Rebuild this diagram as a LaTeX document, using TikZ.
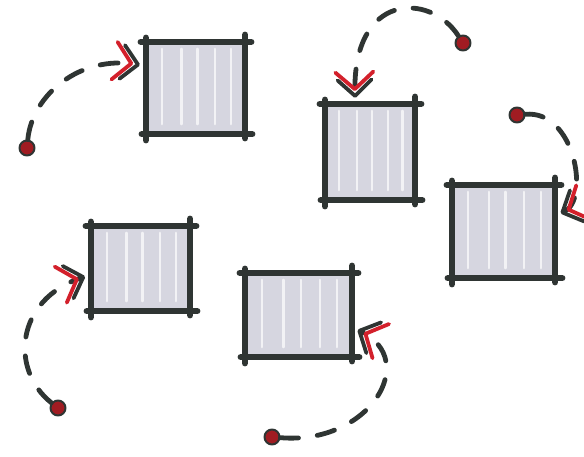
\documentclass[tikz,border=0pt]{standalone}
\usetikzlibrary{calc,arrows.meta}
\definecolor{ink}{HTML}{2F3533}
\definecolor{inkred}{HTML}{D3202B}
\definecolor{dotred}{HTML}{A01C22}
\definecolor{boxgray}{HTML}{D6D6E0}

\begin{document}
\begin{tikzpicture}[x=1pt,y=-1pt,line cap=round,line join=round,
  box/.style={rectangle,fill=boxgray,inner sep=0pt},
  rim/.style={ink,line width=6.5pt},
  streak/.style={white,line width=2.2pt,opacity=.7,shorten <=7pt,shorten >=10pt},
  dot/.style={circle,fill=dotred,draw=ink,line width=2pt,minimum size=15pt,inner sep=0pt},
  trail/.style={ink,line width=4.8pt,dash pattern=on 18pt off 19pt,shorten >=6pt,
    -{Straight Barb[length=17pt,width=38pt,line width=3.8pt,round,color=inkred,sep=-13pt]
      Straight Barb[length=16pt,width=34pt,line width=3.8pt,round,color=ink]}}]
  \path[use as bounding box] (0,0) rectangle (584,457);
  % the five boxes
  \foreach \n/\cx/\cy/\w/\h in {s1/195.5/88/99/92,s2/370/152/90/96,
      s3/503.5/231.5/103/93,s4/140.5/268.5/99/85,s5/298.5/315/107/84}{
    \node[box,minimum width=\w pt,minimum height=\h pt] (\n) at (\cx,\cy) {};
    \foreach \f in {.16,.36,.52,.7,.86}
      \draw[streak] ($(\n.north west)!\f!(\n.north east)$)--($(\n.south west)!\f!(\n.south east)$);
    \draw[rim] ([xshift=-5pt]\n.north west)--([xshift=6pt]\n.north east);
    \draw[rim] ([xshift=-4pt]\n.south west)--([xshift=7pt]\n.south east);
    \draw[rim] ([yshift=4pt]\n.north west)--([yshift=-6pt]\n.south west);
    \draw[rim] ([yshift=7pt]\n.north east)--([yshift=-4pt]\n.south east);
  }
  % start dots
  \node[dot] (d1) at (27,148) {};
  \node[dot] (d2) at (463,43) {};
  \node[dot] (d3) at (517,115) {};
  \node[dot] (d4) at (58,408) {};
  \node[dot] (d5) at (272,437) {};
  % dashed trails into the boxes
  \draw[trail] (d1) .. controls (32,95) and (80,55) .. (s1.156);
  \draw[trail] (d2) .. controls (430,-8) and (352,-8) .. (s2.107);
  \draw[trail] (d3) .. controls (575,110) and (590,200) .. (s3.17);
  \draw[trail] (d4) .. controls (10,370) and (15,300) .. (s4.187);
  \draw[trail] (d5) .. controls (370,445) and (420,360) .. (s5.347);
\end{tikzpicture}
\end{document}
